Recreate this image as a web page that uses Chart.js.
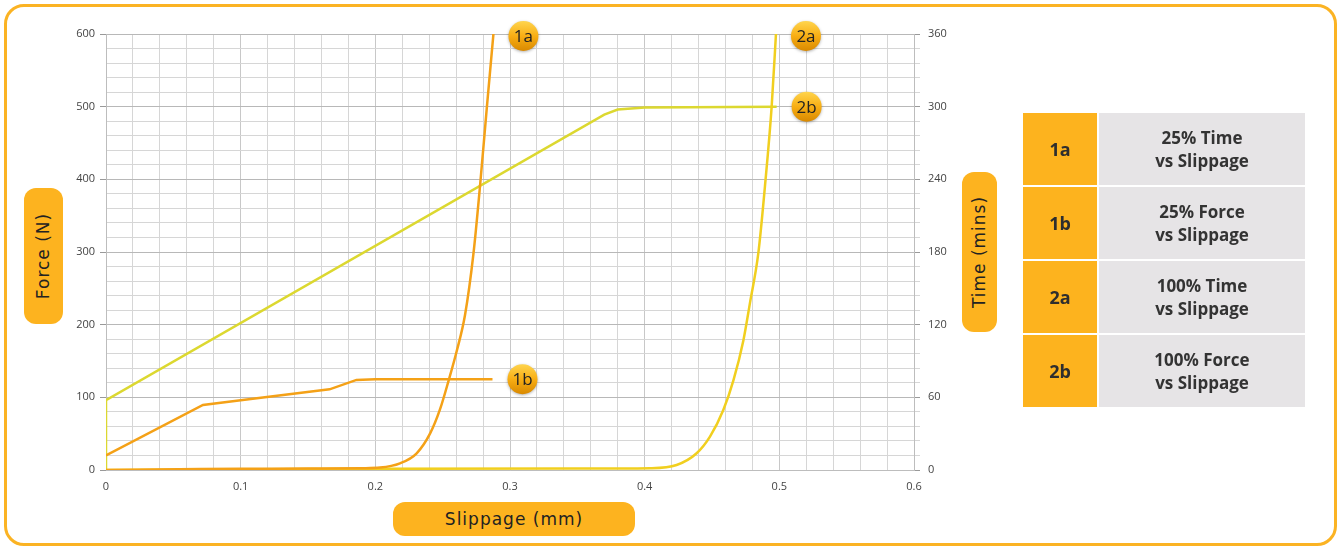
<!DOCTYPE html>
<html>
<head>
<meta charset="utf-8">
<script src="https://cdn.jsdelivr.net/npm/chart.js@4.4.1/dist/chart.umd.min.js"></script>
<style>
  body { margin: 0; background: #fff; }
  #wrap { position: relative; width: 1339px; height: 548px; overflow: hidden; font-family: "Open Sans", sans-serif; }
  #frame { position: absolute; left: 4px; top: 4px; width: 1327px; height: 536px; border: 3px solid #FBB323; border-radius: 20px; }
  #graphic { position: absolute; left: 0; top: 0; }
  .tag { position: absolute; background: #FDB31F; border-radius: 12px; color: #222;
         font-family: "DejaVu Sans", sans-serif; font-weight: 400; font-size: 17px; letter-spacing: 1px;
         display: flex; align-items: center; justify-content: center; white-space: nowrap; }
  .tag span { display: inline-block; }
  .vert span { transform: rotate(-90deg); }
  #legendBox { position: absolute; left: 1023px; top: 113px; width: 282px; }
  .row { display: flex; height: 72px; margin-bottom: 2px; }
  .row .k { width: 74px; background: #FDB31E; margin-right: 2px; display: flex; align-items: center; justify-content: center;
            font-weight: 700; font-size: 18px; color: #2e2e2e; }
  .row .v { flex: 1; background: #E6E4E6; display: flex; align-items: center; justify-content: center; text-align: center;
            font-weight: 700; font-size: 17px; line-height: 23px; color: #333; }
</style>
</head>
<body>
<div id="wrap">
  <div id="frame"></div>
  <canvas id="graphic" width="1339" height="548"></canvas>
  <div class="tag vert" style="left:24px;top:188px;width:39px;height:136px;"><span>Force (N)</span></div>
  <div class="tag vert" style="left:962px;top:172px;width:35px;height:160px;"><span>Time (mins)</span></div>
  <div class="tag" style="left:393px;top:502px;width:242px;height:34px;"><span>Slippage (mm)</span></div>
  <div id="legendBox"></div>
</div>
<script>
// legend table
const legendKeys = ['1a', '1b', '2a', '2b'];
const legendTexts = ['25% Time<br>vs Slippage', '25% Force<br>vs Slippage', '100% Time<br>vs Slippage', '100% Force<br>vs Slippage'];

// 1a: 25% time vs slippage (right axis)
const slip1a = [0, 0.07, 0.1, 0.15, 0.19, 0.2035, 0.2183, 0.2307, 0.2406, 0.248, 0.2542, 0.2604, 0.2666, 0.2728, 0.2777, 0.2827, 0.2877];
const time1a = [0, 0.8, 1, 1.2, 1.5, 2, 5.5, 13.8, 30, 50, 73, 98, 128, 178, 234, 298, 360];

// 1b: 25% force vs slippage (left axis)
const slip1b = [0, 0.072, 0.1, 0.166, 0.186, 0.2, 0.287];
const force1b = [20, 89.5, 96, 111, 124, 125, 125];

// 2a: 100% time vs slippage (right axis)
const slip2a = [0, 0.2, 0.35, 0.404, 0.4237, 0.4386, 0.4485, 0.4584, 0.4659, 0.4733, 0.4782, 0.4844, 0.4893, 0.4943, 0.4975];
const time2a = [0, 1, 1.2, 1.5, 4.1, 13.8, 27.5, 49.5, 74, 107, 138, 179, 234, 300, 360];

// 2b: 100% force vs slippage (left axis)
const slip2b = [0, 0, 0.37, 0.38, 0.4, 0.498];
const force2b = [0, 96, 489, 496, 499, 500];

const legendBox = document.getElementById('legendBox');
legendKeys.forEach((k, i) => {
  legendBox.insertAdjacentHTML('beforeend', '<div class="row"><div class="k">' + k + '</div><div class="v">' + legendTexts[i] + '</div></div>');
});

const pts = (xs, ys) => xs.map((x, i) => ({ x: x, y: ys[i] }));
const isMajor = (v, step) => Math.abs(v / step - Math.round(v / step)) < 1e-6;

// round badges next to the end of each line
const badgePlugin = {
  id: 'badges',
  afterDatasetsDraw(chart) {
    const ctx = chart.ctx;
    chart.data.datasets.forEach((ds, i) => {
      const meta = chart.getDatasetMeta(i);
      const last = meta.data[meta.data.length - 1];
      const x = last.x + 30, y = Math.max(last.y, 36), r = 15;
      ctx.save();
      ctx.shadowColor = 'rgba(0,0,0,0.3)';
      ctx.shadowBlur = 3;
      ctx.shadowOffsetY = 1;
      const g = ctx.createLinearGradient(x, y - r, x, y + r);
      g.addColorStop(0, '#FFD54E');
      g.addColorStop(0.5, '#F8AE14');
      g.addColorStop(1, '#D98900');
      ctx.fillStyle = g;
      ctx.beginPath();
      ctx.arc(x, y, r, 0, Math.PI * 2);
      ctx.fill();
      ctx.restore();
      ctx.save();
      ctx.fillStyle = '#222';
      ctx.font = '17px "Open Sans", sans-serif';
      ctx.textAlign = 'center';
      ctx.textBaseline = 'middle';
      ctx.fillText(legendKeys[i], x, y + 1);
      ctx.restore();
    });
  }
};

const canvasG = document.getElementById('graphic');
const tickFont = { family: '"Open Sans", sans-serif', size: 11 };

const graphicSlip = new Chart(canvasG, {
  type: 'line',
  data: {
    datasets: [
      { label: '1a', data: pts(slip1a, time1a), yAxisID: 'y1', borderColor: '#F4A117', borderWidth: 2.5, cubicInterpolationMode: 'monotone' },
      { label: '1b', data: pts(slip1b, force1b), yAxisID: 'y', borderColor: '#F4A117', borderWidth: 2.5, tension: 0 },
      { label: '2a', data: pts(slip2a, time2a), yAxisID: 'y1', borderColor: '#F1CF1F', borderWidth: 2.5, cubicInterpolationMode: 'monotone' },
      { label: '2b', data: pts(slip2b, force2b), yAxisID: 'y', borderColor: '#DCD830', borderWidth: 2.5, tension: 0 }
    ]
  },
  options: {
    responsive: false,
    animation: false,
    events: [],
    elements: { point: { radius: 0 } },
    layout: { padding: { left: 40, right: 365, top: 34, bottom: 48 } },
    plugins: { legend: { display: false }, tooltip: { enabled: false } },
    scales: {
      x: {
        type: 'linear', min: 0, max: 0.6,
        afterFit: (s) => { s.height = 30; },
        ticks: {
          stepSize: 0.02, autoSkip: false, maxRotation: 0, padding: 4, color: '#444', font: tickFont,
          callback: (v) => isMajor(v, 0.1) ? String(Math.round(v * 10) / 10) : ''
        },
        grid: {
          color: (c) => c.tick && isMajor(c.tick.value, 0.1) ? '#c8c8c8' : '#d6d6d6',
          tickColor: 'transparent', tickLength: 6, lineWidth: 1
        },
        border: { color: '#bdbdbd' }
      },
      y: {
        position: 'left', min: 0, max: 600,
        afterFit: (s) => { s.width = 66; },
        ticks: {
          stepSize: 20, autoSkip: false, padding: 5, color: '#444', font: tickFont,
          callback: (v) => isMajor(v, 100) ? String(v) : ''
        },
        grid: {
          color: (c) => c.tick && isMajor(c.tick.value, 100) ? '#b8b8b8' : '#d6d6d6',
          tickColor: (c) => c.tick && isMajor(c.tick.value, 100) ? '#999' : 'transparent',
          tickLength: 6
        },
        border: { color: '#bdbdbd' }
      },
      y1: {
        position: 'right', min: 0, max: 360,
        afterFit: (s) => { s.width = 60; },
        ticks: {
          stepSize: 12, autoSkip: false, padding: 8, color: '#444', font: tickFont,
          callback: (v) => isMajor(v, 60) ? String(v) : ''
        },
        grid: {
          drawOnChartArea: false,
          tickColor: (c) => c.tick && isMajor(c.tick.value, 60) ? '#999' : '#d6d6d6',
          tickLength: 6
        },
        border: { color: '#bdbdbd' }
      }
    }
  },
  plugins: [badgePlugin]
});
</script>
</body>
</html>
